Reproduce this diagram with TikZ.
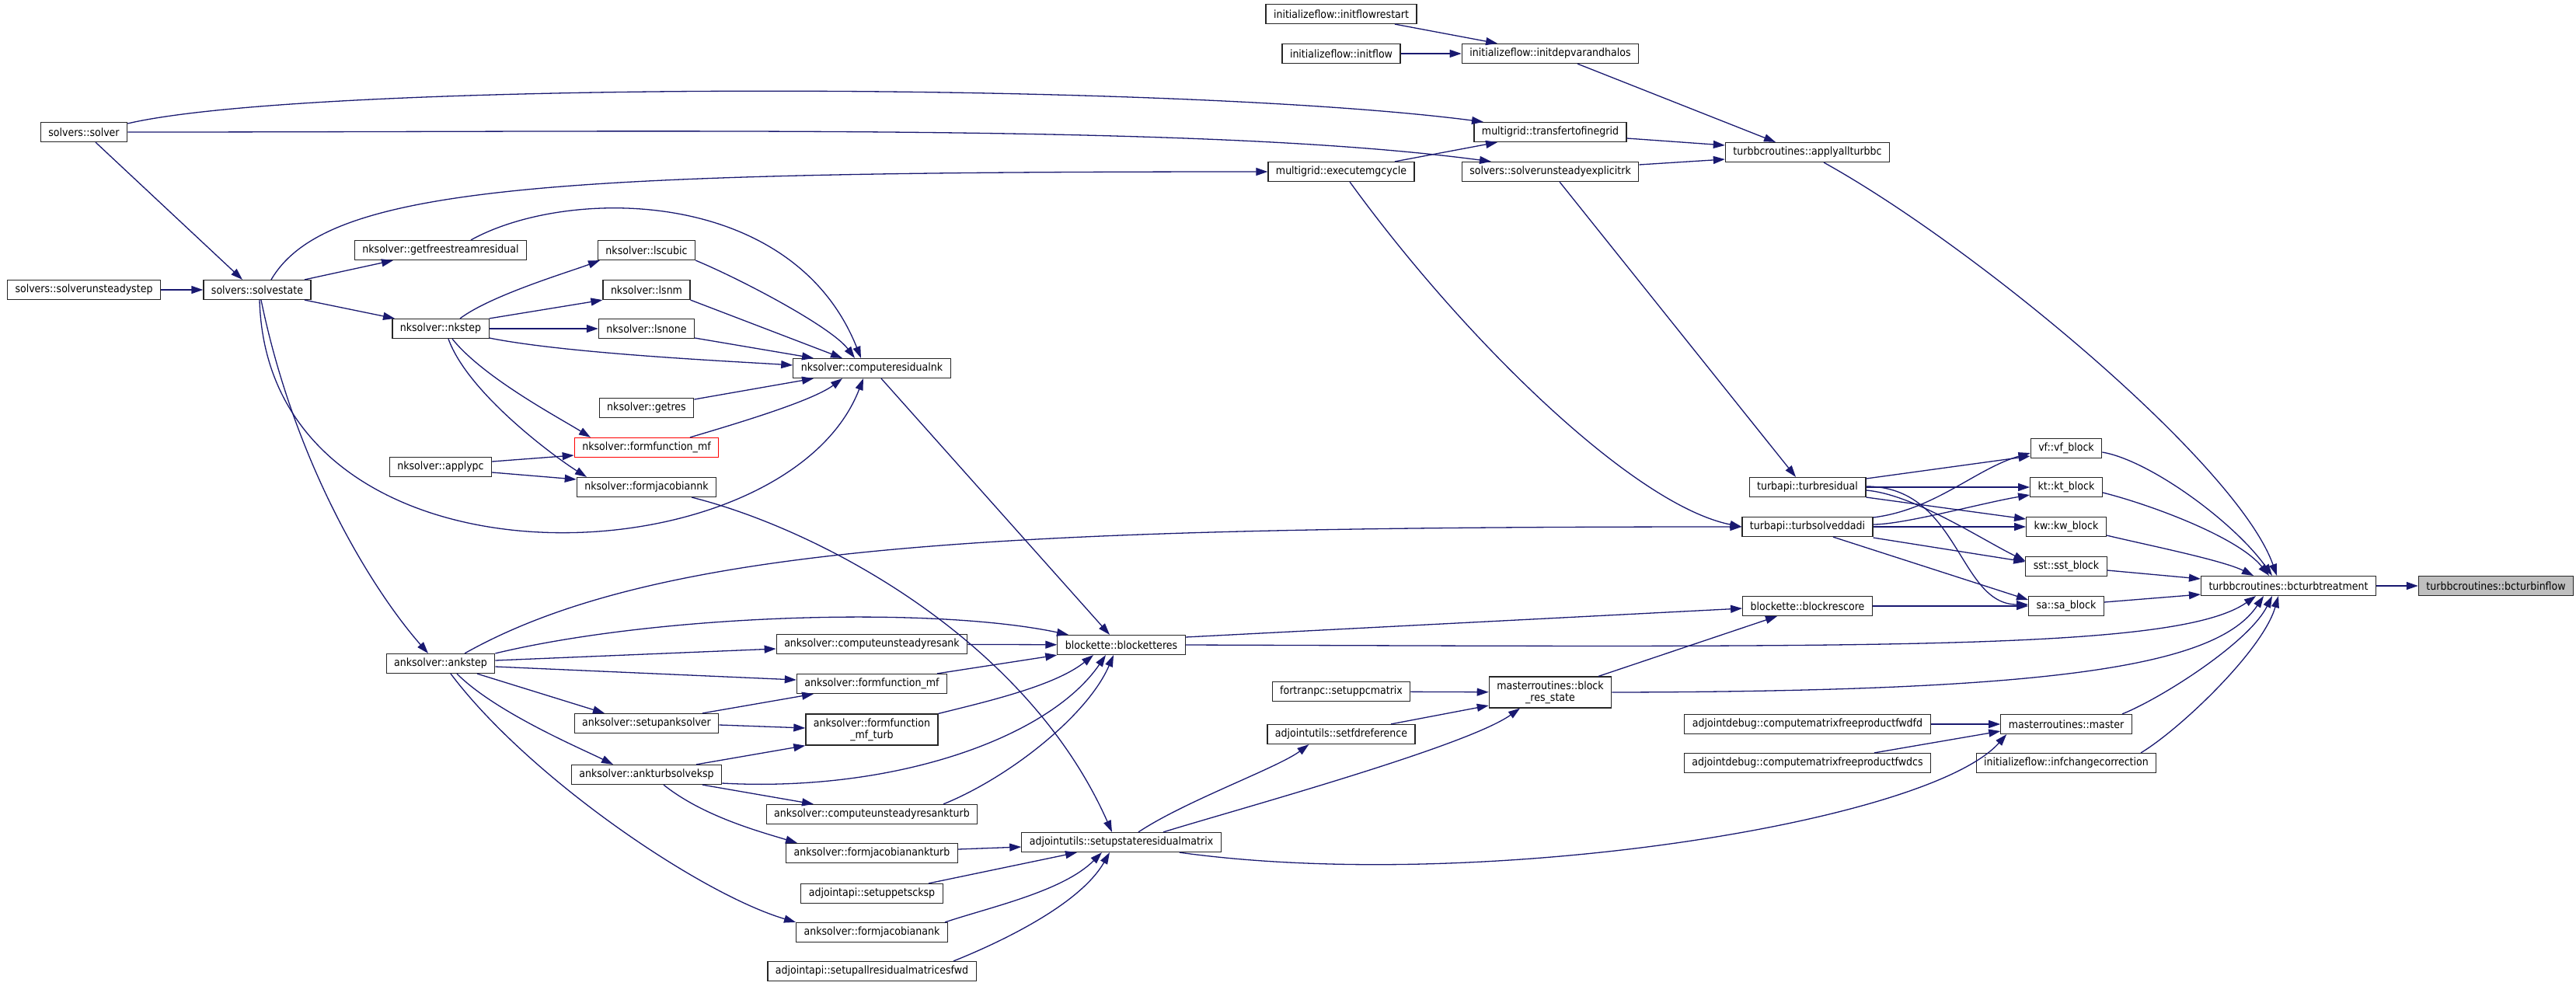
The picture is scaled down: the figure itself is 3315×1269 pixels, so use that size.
\documentclass[tikz,border=0pt]{standalone}
\usepackage{fontspec}
\setmainfont{DejaVu Sans Condensed}
\usetikzlibrary{arrows.meta,calc}
\definecolor{edgeblue}{HTML}{191970}

\begin{document}
\begin{tikzpicture}[x=1pt,y=-1pt,
  every node/.style={draw=black!85,line width=1.2pt,fill=white,inner xsep=10pt,
    inner ysep=2pt,minimum height=25pt,font=\fontsize{14}{15}\selectfont},
  call/.style={draw=edgeblue,line width=1.3pt,-{Triangle[length=15pt,width=10pt]}}]
  \useasboundingbox (0,0) rectangle (3315,1269);

  % Called function and its direct caller
  \node[fill=black!25] (inflow) at (3212,754) {turbbcroutines::bcturbinflow};
  \node (treat) at (2945,754) {turbbcroutines::bcturbtreatment};

  % Turbulence model blocks
  \foreach \n/\y in {vf/577,kt/627,kw/678,sst/729,sa/780}
    \node (\n) at (2659,\y) {\n::\n\_block};
  \node (master) at (2659,932) {masterroutines::master};
  \node (infcorr) at (2659,982) {initializeflow::infchangecorrection};

  % Column of turbapi and friends
  \node (applybc) at (2326,196) {turbbcroutines::applyallturbbc};
  \node (tres) at (2326,627) {turbapi::turbresidual};
  \node (tsolve) at (2326,678) {turbapi::turbsolveddadi};
  \node (rescore) at (2326,780) {blockette::blockrescore};
  \node (fwdfd) at (2326,932) {adjointdebug::computematrixfreeproductfwdfd};
  \node (fwdcs) at (2326,982) {adjointdebug::computematrixfreeproductfwdcs};

  \node (initdep) at (1995,69) {initializeflow::initdepvarandhalos};
  \node (transfer) at (1995,170) {multigrid::transfertofinegrid};
  \node (explrk) at (1995,221) {solvers::solverunsteadyexplicitrk};
  \node[align=center,minimum height=40pt] (blockstate) at (1995,891) {masterroutines::block\\\_res\_state};

  \node (initfr) at (1726,18) {initializeflow::initflowrestart};
  \node (initf) at (1726,69) {initializeflow::initflow};
  \node (mgcycle) at (1726,221) {multigrid::executemgcycle};
  \node (pcmat) at (1726,890) {fortranpc::setuppcmatrix};
  \node (fdref) at (1726,945) {adjointutils::setfdreference};

  \node (blockres) at (1443,830) {blockette::blocketteres};
  \node (stateres) at (1443,1084) {adjointutils::setupstateresidualmatrix};

  % Residual routines
  \node (resnk) at (1122,474) {nksolver::computeresidualnk};
  \node (unsres) at (1122,829) {anksolver::computeunsteadyresank};
  \node (ankff) at (1122,880) {anksolver::formfunction\_mf};
  \node[align=center,minimum height=40pt] (ankffturb) at (1122,939) {anksolver::formfunction\\\_mf\_turb};
  \node (unsresturb) at (1122,1048) {anksolver::computeunsteadyresankturb};
  \node (jacankturb) at (1122,1098) {anksolver::formjacobianankturb};
  \node (petscksp) at (1122,1150) {adjointapi::setuppetscksp};
  \node (jacank) at (1122,1200) {anksolver::formjacobianank};
  \node (allres) at (1122,1250) {adjointapi::setupallresidualmatricesfwd};

  \node (lscubic) at (832,322) {nksolver::lscubic};
  \node (lsnm) at (832,373) {nksolver::lsnm};
  \node (lsnone) at (832,423) {nksolver::lsnone};
  \node (getres) at (832,525) {nksolver::getres};
  \node[draw=red] (ffmf) at (832,576) {nksolver::formfunction\_mf};
  \node (jacnk) at (832,627) {nksolver::formjacobiannk};
  \node (setupank) at (832,931) {anksolver::setupanksolver};
  \node (turbksp) at (832,997) {anksolver::ankturbsolveksp};

  \node (freestream) at (567,322) {nksolver::getfreestreamresidual};
  \node (nkstep) at (567,423) {nksolver::nkstep};
  \node (applypc) at (567,601) {nksolver::applypc};
  \node (ankstep) at (567,854) {anksolver::ankstep};

  \node (solvestate) at (331,373) {solvers::solvestate};
  \node (solver) at (108,170) {solvers::solver};
  \node (unsteady) at (108,373) {solvers::solverunsteadystep};

  % Calls into bcturbtreatment
  \draw[call] (treat) -- (inflow);
  \draw[call] ($(vf.east)+(0,5)$) .. controls +(60,10) and +(-50,-70) .. ($(treat.north)+(-21,0)$);
  \draw[call] ($(kt.east)+(0,7)$) .. controls +(60,15) and +(-40,-50) .. ($(treat.north)+(-25,0)$);
  \draw[call] ($(kw.east)+(0,11)$) .. controls +(50,12) and +(-40,-20) .. ($(treat.north)+(-45,0)$);
  \draw[call] ($(sst.east)+(0,5)$) -- ($(treat.west)+(0,-9)$);
  \draw[call] ($(sa.east)+(0,-5)$) -- ($(treat.west)+(0,11)$);
  \draw[call] ($(applybc.south)+(21,0)$) .. controls +(200,111) and +(-50,-142) .. ($(treat.north)+(-15,0)$);
  \draw[call] (blockres.east) .. controls +(900,3) and +(-100,70) .. ($(treat.south)+(-42,0)$);
  \draw[call] (blockstate.east) .. controls +(573,-1) and +(-60,90) .. ($(treat.south)+(-32,0)$);
  \draw[call] ($(master.north)+(72,0)$) .. controls +(50,-20) and +(-30,60) .. ($(treat.south)+(-21,0)$);
  \draw[call] ($(infcorr.north)+(96,0)$) .. controls +(50,-30) and +(-20,70) .. ($(treat.south)+(-13,0)$);

  % Calls into the model blocks
  \draw[call] ($(tres.east)+(0,-11)$) -- ($(vf.west)+(0,10)$);
  \draw[call] (tres) -- (kt);
  \draw[call] ($(tres.east)+(0,13)$) -- ($(kw.west)+(0,-10)$);
  \draw[call] ($(tres.east)+(0,4)$) .. controls +(60,5) and +(-60,-30) .. ($(sst.west)+(0,-7)$);
  \draw[call] ($(tres.east)+(0,-1)$) .. controls +(120,0) and +(-90,0) .. ($(sa.west)+(0,-2)$);
  \draw[call] ($(tsolve.east)+(0,-12)$) .. controls +(80,-10) and +(-70,20) .. ($(vf.west)+(0,6)$);
  \draw[call] ($(tsolve.east)+(0,-3)$) .. controls +(40,0) and +(-60,10) .. ($(kt.west)+(0,10)$);
  \draw[call] (tsolve) -- (kw);
  \draw[call] ($(tsolve.east)+(0,14)$) -- ($(sst.west)+(0,-6)$);
  \draw[call] ($(tsolve.south)+(33,0)$) -- ($(sa.west)+(0,-8)$);
  \draw[call] (rescore) -- (sa);

  % Upper part of the graph
  \draw[call] ($(explrk.south)+(12,0)$) -- ($(tres.north)+(-15,0)$);
  \draw[call] ($(mgcycle.south)+(11,0)$) .. controls +(145,200) and +(-140,-28) .. (tsolve.west);
  \draw[call] ($(ankstep.north)+(31,0)$) .. controls +(252,-142) and +(-940,0) .. (tsolve.west);
  \draw[call] ($(initdep.south)+(35,0)$) -- ($(applybc.north)+(-41,0)$);
  \draw[call] ($(transfer.east)+(0,8)$) -- ($(applybc.west)+(0,-9)$);
  \draw[call] ($(explrk.east)+(0,-9)$) -- ($(applybc.west)+(0,9)$);
  \draw[call] ($(initfr.south)+(69,0)$) -- ($(initdep.north)+(-68,0)$);
  \draw[call] (initf) -- (initdep);
  \draw[call] ($(solver.east)+(0,-11)$) .. controls +(233,-55) and +(-409,-53) .. ($(transfer.north)+(-86,0)$);
  \draw[call] (solver.east) .. controls +(733,0) and +(-369,-49) .. ($(explrk.north)+(-76,0)$);
  \draw[call] ($(mgcycle.north)+(69,0)$) -- ($(transfer.south)+(-68,0)$);
  \draw[call] ($(solvestate.north)+(18,0)$) .. controls +(71,-121) and +(-929,0) .. (mgcycle.west);

  % Solver and nksolver calls
  \draw[call] ($(solver.south)+(15,0)$) -- ($(solvestate.north)+(-19,0)$);
  \draw[call] (unsteady) -- (solvestate);
  \draw[call] ($(solvestate.north)+(61,0)$) -- ($(freestream.south)+(-61,0)$);
  \draw[call] ($(solvestate.south)+(61,0)$) -- ($(nkstep.north)+(-59,0)$);
  \draw[call] ($(solvestate.south)+(3,0)$) .. controls (345,780) and (1010,750) .. ($(resnk.south)+(-11,0)$);
  \draw[call] ($(solvestate.south)+(5,0)$) .. controls (380,600) and (480,760) .. ($(ankstep.north)+(-16,0)$);
  \draw[call] ($(nkstep.north)+(25,0)$) .. controls +(40,-30) and +(-40,15) .. ($(lscubic.south)+(-60,0)$);
  \draw[call] (nkstep.north east) -- (lsnm.south west);
  \draw[call] (nkstep) -- (lsnone);
  \draw[call] ($(nkstep.east)+(0,12)$) .. controls +(100,20) and +(-80,-5) .. ($(resnk.west)+(0,-4)$);
  \draw[call] ($(nkstep.south)+(15,0)$) .. controls +(40,50) and +(-40,-25) .. ($(ffmf.north)+(-72,0)$);
  \draw[call] ($(nkstep.south)+(10,0)$) .. controls +(25,70) and +(-40,-25) .. ($(jacnk.north)+(-77,0)$);
  \draw[call] ($(applypc.east)+(0,-7)$) -- ($(ffmf.west)+(0,10)$);
  \draw[call] ($(applypc.east)+(0,7)$) -- ($(jacnk.west)+(0,-10)$);
  \draw[call] (lscubic.south east) .. controls +(60,25) and +(-30,-40) .. ($(resnk.north)+(-22,0)$);
  \draw[call] (lsnm.south east) -- ($(resnk.north)+(-38,0)$);
  \draw[call] ($(freestream.north)+(39,0)$) .. controls (730,240) and (1020,240) .. ($(resnk.north)+(-14,0)$);
  \draw[call] ($(lsnone.east)+(0,12)$) -- ($(resnk.north)+(-75,0)$);
  \draw[call] ($(getres.east)+(0,-11)$) -- ($(resnk.south)+(-75,0)$);
  \draw[call] ($(ffmf.north)+(56,0)$) .. controls +(50,-15) and +(-40,30) .. ($(resnk.south)+(-38,0)$);

  % Residual and ANK chain
  \draw[call] ($(resnk.south)+(12,0)$) -- ($(blockres.north)+(-15,0)$);
  \draw[call] (ankstep.north east) .. controls (850,790) and (1200,780) .. ($(blockres.north)+(-68,0)$);
  \draw[call] ($(ankstep.east)+(0,-4)$) -- ($(unsres.west)+(0,6)$);
  \draw[call] (unsres) -- (blockres);
  \draw[call] ($(ankstep.east)+(0,4)$) -- ($(ankff.west)+(0,-5)$);
  \draw[call] ($(ankstep.south)+(47,0)$) -- ($(setupank.north)+(-54,0)$);
  \draw[call] ($(ankstep.south)+(21,0)$) .. controls +(50,50) and +(-40,-20) .. ($(turbksp.north)+(-43,0)$);
  \draw[call] ($(ankstep.south)+(13,0)$) .. controls (680,1000) and (900,1150) .. (jacank.north west);
  \draw[call] ($(ankff.north)+(84,0)$) -- (blockres.south west);
  \draw[call] (ankffturb.north east) .. controls +(60,-15) and +(-50,40) .. ($(blockres.south)+(-36,0)$);
  \draw[call] ($(turbksp.east)+(0,11)$) .. controls (1150,1020) and (1350,950) .. ($(blockres.south)+(-20,0)$);
  \draw[call] ($(unsresturb.north)+(92,0)$) .. controls (1300,1000) and (1400,920) .. ($(blockres.south)+(-10,0)$);
  \draw[call] ($(setupank.north)+(72,0)$) -- ($(ankff.south)+(-75,0)$);
  \draw[call] ($(setupank.east)+(0,2)$) -- ($(ankffturb.west)+(0,-2)$);
  \draw[call] ($(turbksp.north)+(64,0)$) -- (ankffturb.south west);
  \draw[call] ($(turbksp.south)+(72,0)$) -- ($(unsresturb.north)+(-75,0)$);
  \draw[call] ($(turbksp.south)+(22,0)$) .. controls +(50,40) and +(-50,-15) .. ($(jacankturb.north)+(-96,0)$);

  % setupstateresidualmatrix
  \draw[call] ($(jacankturb.east)+(0,-5)$) -- ($(stateres.west)+(0,6)$);
  \draw[call] ($(petscksp.north)+(73,0)$) -- ($(stateres.south)+(-57,0)$);
  \draw[call] ($(jacank.north)+(94,0)$) .. controls +(60,-20) and +(-50,50) .. ($(stateres.south)+(-25,0)$);
  \draw[call] ($(allres.north)+(105,0)$) .. controls +(50,-20) and +(-40,70) .. ($(stateres.south)+(-15,0)$);
  \draw[call] ($(jacnk.south east)+(-32,0)$) .. controls (1050,680) and (1320,820) .. ($(stateres.north)+(-12,0)$);
  \draw[call] ($(stateres.north)+(22,0)$) .. controls +(60,-40) and +(-40,30) .. ($(fdref.south west)+(54,0)$);
  \draw[call] ($(stateres.north)+(54,0)$) .. controls +(80,-25) and +(-70,50) .. ($(blockstate.south)+(-39,0)$);
  \draw[call] ($(stateres.south east)+(-54,0)$) .. controls (1900,1150) and (2480,1060) .. ($(master.south west)+(8,0)$);

  % masterroutines
  \draw[call] (pcmat) -- (blockstate);
  \draw[call] ($(fdref.north)+(64,0)$) -- ($(blockstate.west)+(0,17)$);
  \draw[call] ($(blockstate.north)+(62,0)$) -- ($(rescore.south)+(-39,0)$);
  \draw[call] (fwdfd) -- (master);
  \draw[call] ($(fwdcs.north)+(86,0)$) -- ($(master.west)+(0,9)$);
  \draw[call] ($(blockres.east)+(0,-10)$) -- ($(rescore.west)+(0,3)$);
\end{tikzpicture}
\end{document}
